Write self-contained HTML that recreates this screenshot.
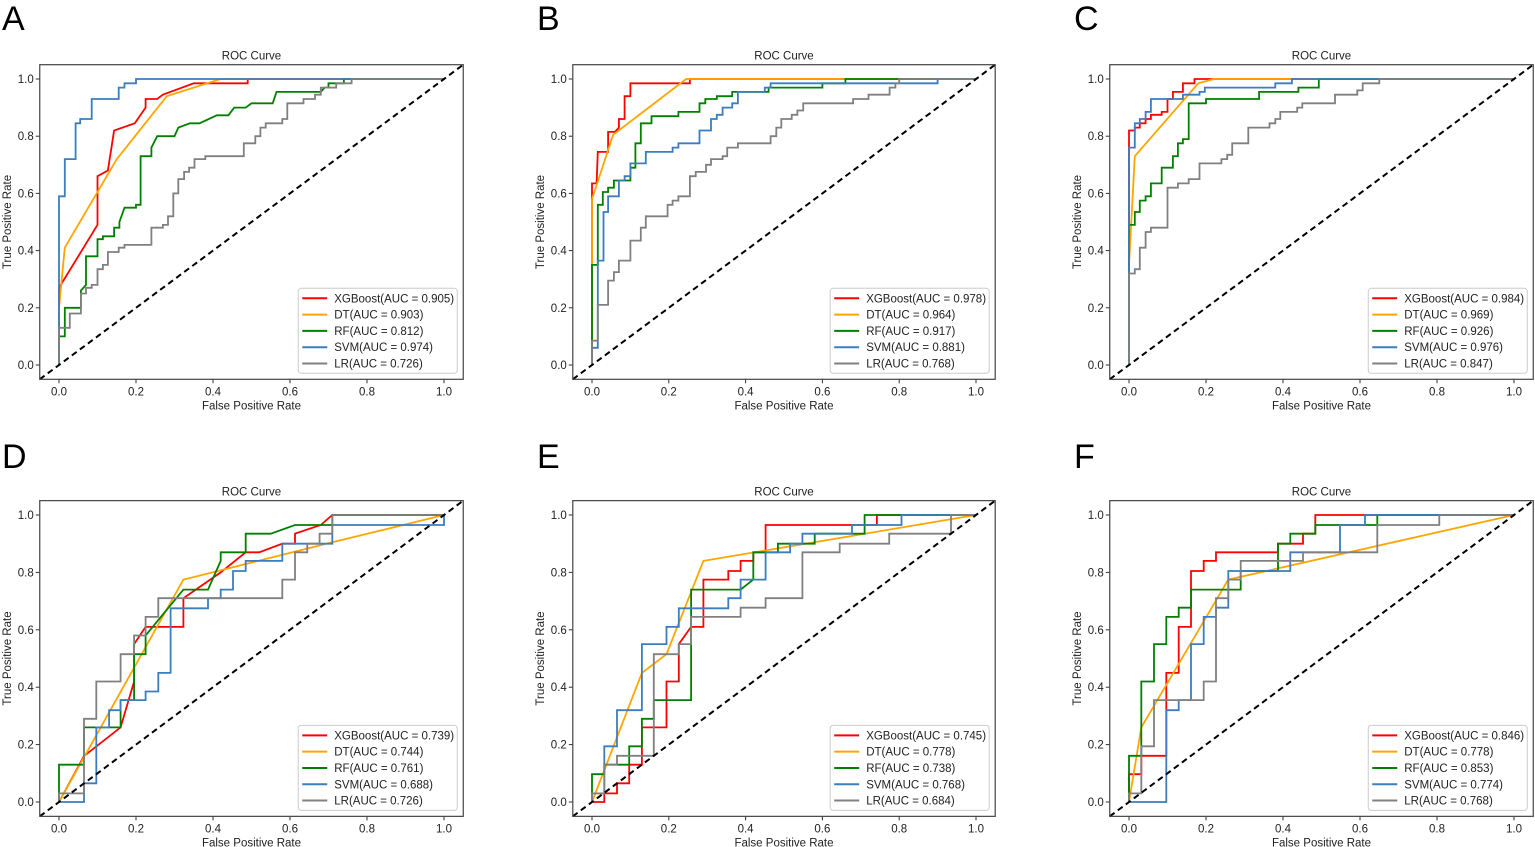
<!DOCTYPE html>
<html><head><meta charset="utf-8">
<style>
html,body{margin:0;padding:0;background:#fff;}
svg{display:block;font-family:"Liberation Sans",Arial,sans-serif;}
</style></head>
<body>
<svg id="fig" width="1535" height="847" viewBox="0 0 1535 847" xmlns="http://www.w3.org/2000/svg"></svg>
<script>
// ---- data: [fpr, tpr] points per panel/model ----
const modelNames = ["XGBoost","DT","RF","SVM","LR"];
const modelColors = ["#ff0000","#ffa500","#008000","#3b7dbf","#808080"];
const panelLetters = ["A","B","C","D","E","F"];
const aucA = [0.905,0.903,0.812,0.974,0.726];
const aucB = [0.978,0.964,0.917,0.881,0.768];
const aucC = [0.984,0.969,0.926,0.976,0.847];
const aucD = [0.739,0.744,0.761,0.688,0.726];
const aucE = [0.745,0.778,0.738,0.768,0.684];
const aucF = [0.846,0.778,0.853,0.774,0.768];
const xTicks = [0,0.2,0.4,0.6,0.8,1.0];
const yTicks = [0,0.2,0.4,0.6,0.8,1.0];

const A_XGB=[[0,0],[0,0.27],[0.1,0.49],[0.1,0.66],[0.127,0.68],[0.143,0.82],[0.197,0.845],[0.225,0.9],[0.225,0.93],[0.255,0.93],[0.27,0.945],[0.35,0.985],[0.49,0.985],[0.49,1],[1,1]];
const A_DT=[[0,0],[0,0.2],[0.015,0.41],[0.15,0.72],[0.28,0.94],[0.42,1],[1,1]];
const A_RF=[[0,0],[0,0.1],[0.015,0.1],[0.015,0.2],[0.057,0.2],[0.057,0.26],[0.07,0.28],[0.07,0.38],[0.1,0.38],[0.1,0.44],[0.114,0.44],[0.114,0.45],[0.143,0.45],[0.143,0.48],[0.157,0.48],[0.157,0.5],[0.17,0.55],[0.2,0.55],[0.2,0.56],[0.212,0.56],[0.212,0.73],[0.24,0.73],[0.24,0.76],[0.255,0.8],[0.3,0.8],[0.31,0.83],[0.34,0.845],[0.365,0.845],[0.41,0.873],[0.44,0.873],[0.455,0.9],[0.485,0.9],[0.5,0.915],[0.555,0.915],[0.565,0.955],[0.68,0.955],[0.69,0.97],[0.7,0.97],[0.7,0.985],[0.74,0.985],[0.74,1],[1,1]];
const A_SVM=[[0,0],[0,0.13],[0,0.59],[0.015,0.59],[0.015,0.72],[0.043,0.72],[0.043,0.845],[0.055,0.845],[0.055,0.86],[0.085,0.86],[0.085,0.93],[0.155,0.93],[0.155,0.97],[0.17,0.97],[0.17,0.985],[0.2,0.985],[0.2,1],[1,1]];
const A_LR=[[0,0],[0,0.13],[0.028,0.13],[0.028,0.18],[0.057,0.18],[0.057,0.25],[0.07,0.25],[0.07,0.27],[0.085,0.27],[0.085,0.28],[0.1,0.28],[0.1,0.335],[0.114,0.335],[0.114,0.35],[0.127,0.35],[0.127,0.395],[0.155,0.395],[0.155,0.41],[0.17,0.41],[0.17,0.42],[0.24,0.42],[0.24,0.48],[0.27,0.48],[0.27,0.49],[0.283,0.49],[0.283,0.52],[0.297,0.52],[0.297,0.6],[0.31,0.6],[0.31,0.65],[0.325,0.65],[0.325,0.675],[0.338,0.675],[0.338,0.69],[0.352,0.69],[0.352,0.72],[0.38,0.72],[0.38,0.73],[0.48,0.73],[0.48,0.775],[0.51,0.775],[0.51,0.8],[0.523,0.8],[0.523,0.83],[0.537,0.83],[0.537,0.845],[0.58,0.845],[0.58,0.86],[0.593,0.86],[0.593,0.915],[0.635,0.915],[0.635,0.93],[0.665,0.93],[0.665,0.945],[0.68,0.945],[0.68,0.97],[0.72,0.97],[0.72,0.985],[0.76,0.985],[0.76,1],[1,1]];

const B_XGB=[[0,0],[0,0.635],[0.012,0.635],[0.015,0.745],[0.042,0.745],[0.042,0.815],[0.06,0.815],[0.07,0.83],[0.07,0.86],[0.085,0.86],[0.085,0.94],[0.1,0.94],[0.1,0.985],[0.255,0.985],[0.255,1],[1,1]];
const B_DT=[[0,0],[0,0.35],[0,0.58],[0.055,0.805],[0.245,1],[1,1]];
const B_RF=[[0,0],[0,0.35],[0.015,0.35],[0.015,0.56],[0.028,0.56],[0.028,0.605],[0.042,0.605],[0.042,0.62],[0.057,0.62],[0.057,0.645],[0.1,0.645],[0.1,0.69],[0.113,0.69],[0.113,0.775],[0.127,0.775],[0.127,0.845],[0.155,0.845],[0.155,0.87],[0.225,0.87],[0.225,0.885],[0.28,0.885],[0.28,0.915],[0.295,0.915],[0.295,0.93],[0.325,0.93],[0.325,0.94],[0.365,0.94],[0.365,0.955],[0.46,0.955],[0.46,0.97],[0.6,0.97],[0.6,0.985],[0.66,0.985],[0.66,1],[1,1]];
const B_SVM=[[0,0],[0,0.06],[0.015,0.06],[0.015,0.365],[0.03,0.365],[0.03,0.535],[0.042,0.535],[0.042,0.59],[0.07,0.59],[0.07,0.645],[0.085,0.645],[0.085,0.66],[0.1,0.66],[0.1,0.705],[0.14,0.705],[0.14,0.745],[0.21,0.745],[0.21,0.76],[0.225,0.76],[0.225,0.775],[0.28,0.775],[0.28,0.82],[0.31,0.82],[0.31,0.86],[0.325,0.86],[0.325,0.875],[0.34,0.875],[0.34,0.9],[0.365,0.9],[0.365,0.915],[0.38,0.915],[0.38,0.955],[0.45,0.955],[0.45,0.97],[0.465,0.97],[0.465,0.985],[0.9,0.985],[0.9,1],[1,1]];
const B_LR=[[0,0],[0,0.085],[0.015,0.085],[0.015,0.21],[0.042,0.21],[0.042,0.295],[0.057,0.295],[0.057,0.325],[0.07,0.325],[0.07,0.365],[0.1,0.365],[0.1,0.435],[0.127,0.435],[0.127,0.48],[0.14,0.48],[0.14,0.52],[0.197,0.52],[0.197,0.56],[0.21,0.56],[0.21,0.575],[0.225,0.575],[0.225,0.59],[0.255,0.59],[0.255,0.66],[0.27,0.66],[0.27,0.675],[0.297,0.675],[0.297,0.7],[0.31,0.7],[0.31,0.72],[0.34,0.72],[0.34,0.73],[0.352,0.73],[0.352,0.76],[0.38,0.76],[0.38,0.775],[0.465,0.775],[0.465,0.8],[0.48,0.8],[0.48,0.83],[0.493,0.83],[0.493,0.86],[0.52,0.86],[0.52,0.875],[0.535,0.875],[0.535,0.89],[0.55,0.89],[0.55,0.915],[0.68,0.915],[0.68,0.93],[0.72,0.93],[0.72,0.945],[0.775,0.945],[0.775,0.97],[0.79,0.97],[0.79,0.985],[0.8,0.985],[0.8,1],[1,1]];

const C_XGB=[[0,0],[0,0.82],[0.015,0.82],[0.015,0.83],[0.028,0.83],[0.028,0.845],[0.043,0.845],[0.043,0.86],[0.057,0.86],[0.057,0.875],[0.085,0.875],[0.085,0.885],[0.1,0.885],[0.1,0.93],[0.114,0.93],[0.114,0.955],[0.14,0.955],[0.14,0.985],[0.17,0.985],[0.17,1],[1,1]];
const C_DT=[[0,0],[0,0.35],[0.015,0.73],[0.18,0.985],[0.22,1],[1,1]];
const C_RF=[[0,0],[0,0.49],[0.015,0.49],[0.015,0.535],[0.028,0.535],[0.028,0.575],[0.043,0.575],[0.043,0.59],[0.057,0.59],[0.057,0.635],[0.085,0.635],[0.085,0.69],[0.114,0.69],[0.114,0.73],[0.127,0.73],[0.127,0.775],[0.14,0.775],[0.14,0.79],[0.155,0.79],[0.155,0.915],[0.2,0.915],[0.2,0.93],[0.338,0.93],[0.338,0.955],[0.44,0.955],[0.44,0.97],[0.493,0.97],[0.493,1],[1,1]];
const C_SVM=[[0,0],[0,0.76],[0.015,0.76],[0.015,0.845],[0.028,0.845],[0.028,0.86],[0.043,0.86],[0.043,0.885],[0.057,0.885],[0.057,0.93],[0.14,0.93],[0.14,0.945],[0.183,0.945],[0.183,0.955],[0.197,0.955],[0.197,0.97],[0.38,0.97],[0.38,0.985],[0.423,0.985],[0.423,1],[1,1]];
const C_LR=[[0,0],[0,0.32],[0.015,0.32],[0.015,0.335],[0.028,0.335],[0.028,0.41],[0.043,0.41],[0.043,0.465],[0.057,0.465],[0.057,0.48],[0.1,0.48],[0.1,0.62],[0.127,0.62],[0.127,0.635],[0.155,0.635],[0.155,0.65],[0.183,0.65],[0.183,0.705],[0.24,0.705],[0.24,0.72],[0.255,0.72],[0.255,0.735],[0.268,0.735],[0.268,0.775],[0.31,0.775],[0.31,0.83],[0.365,0.83],[0.365,0.845],[0.38,0.845],[0.38,0.86],[0.393,0.86],[0.393,0.885],[0.437,0.885],[0.437,0.9],[0.45,0.9],[0.45,0.915],[0.535,0.915],[0.535,0.945],[0.593,0.945],[0.593,0.96],[0.607,0.96],[0.607,0.985],[0.65,0.985],[0.65,1],[1,1]];

const D_XGB=[[0,0],[0.065,0.16],[0.16,0.26],[0.195,0.42],[0.195,0.55],[0.225,0.61],[0.323,0.61],[0.323,0.71],[0.42,0.8],[0.485,0.87],[0.52,0.87],[0.58,0.9],[0.613,0.9],[0.613,0.935],[0.68,0.965],[0.71,1],[1,1]];
const D_DT=[[0,0],[0.323,0.775],[0.71,0.905],[1,1]];
const D_RF=[[0,0],[0,0.13],[0.065,0.13],[0.065,0.26],[0.16,0.26],[0.16,0.355],[0.195,0.355],[0.195,0.515],[0.225,0.515],[0.225,0.58],[0.323,0.74],[0.387,0.74],[0.42,0.84],[0.42,0.87],[0.485,0.87],[0.485,0.935],[0.55,0.935],[0.613,0.965],[0.71,0.965],[0.71,1],[1,1]];
const D_SVM=[[0,0],[0.065,0],[0.065,0.065],[0.097,0.065],[0.097,0.26],[0.13,0.26],[0.13,0.32],[0.16,0.32],[0.16,0.355],[0.225,0.355],[0.225,0.385],[0.258,0.385],[0.258,0.45],[0.29,0.45],[0.29,0.675],[0.387,0.675],[0.387,0.71],[0.42,0.71],[0.42,0.74],[0.452,0.74],[0.452,0.805],[0.485,0.805],[0.485,0.84],[0.58,0.84],[0.58,0.9],[0.71,0.9],[0.71,0.965],[1,0.965],[1,1]];
const D_LR=[[0,0],[0,0.03],[0.065,0.03],[0.065,0.29],[0.097,0.29],[0.097,0.42],[0.16,0.42],[0.16,0.515],[0.195,0.515],[0.195,0.58],[0.225,0.58],[0.225,0.645],[0.258,0.645],[0.258,0.71],[0.58,0.71],[0.58,0.775],[0.613,0.775],[0.613,0.87],[0.645,0.87],[0.645,0.9],[0.677,0.9],[0.677,0.935],[0.71,0.935],[0.71,1],[1,1]];

const E_XGB=[[0,0],[0.032,0],[0.032,0.03],[0.065,0.03],[0.065,0.065],[0.097,0.065],[0.097,0.13],[0.13,0.13],[0.13,0.26],[0.194,0.26],[0.194,0.42],[0.226,0.42],[0.226,0.55],[0.258,0.61],[0.29,0.61],[0.29,0.775],[0.355,0.775],[0.355,0.805],[0.387,0.805],[0.387,0.84],[0.42,0.84],[0.42,0.87],[0.452,0.87],[0.452,0.965],[0.742,0.965],[0.742,1],[1,1]];
const E_DT=[[0,0],[0.13,0.45],[0.194,0.515],[0.29,0.84],[1,1]];
const E_RF=[[0,0],[0,0.097],[0.032,0.097],[0.032,0.13],[0.097,0.13],[0.097,0.194],[0.13,0.194],[0.13,0.29],[0.161,0.29],[0.161,0.355],[0.258,0.355],[0.258,0.74],[0.387,0.74],[0.42,0.775],[0.42,0.87],[0.484,0.87],[0.484,0.9],[0.58,0.9],[0.58,0.935],[0.71,0.935],[0.71,1],[1,1]];
const E_SVM=[[0,0],[0,0.03],[0.032,0.03],[0.032,0.194],[0.065,0.194],[0.065,0.32],[0.13,0.32],[0.13,0.55],[0.194,0.55],[0.194,0.61],[0.226,0.61],[0.226,0.675],[0.355,0.675],[0.355,0.71],[0.387,0.71],[0.387,0.775],[0.452,0.775],[0.452,0.87],[0.516,0.87],[0.516,0.9],[0.548,0.9],[0.548,0.935],[0.677,0.935],[0.677,0.965],[0.806,0.965],[0.806,1],[1,1]];
const E_LR=[[0,0],[0,0.03],[0.032,0.03],[0.032,0.13],[0.065,0.13],[0.065,0.161],[0.161,0.161],[0.161,0.515],[0.226,0.515],[0.226,0.55],[0.258,0.55],[0.258,0.645],[0.387,0.645],[0.387,0.677],[0.452,0.677],[0.452,0.71],[0.548,0.71],[0.548,0.87],[0.645,0.87],[0.645,0.9],[0.774,0.9],[0.774,0.935],[0.935,0.935],[0.935,1],[1,1]];

const F_XGB=[[0,0],[0,0.097],[0.032,0.097],[0.032,0.161],[0.097,0.161],[0.097,0.45],[0.129,0.45],[0.129,0.61],[0.161,0.61],[0.161,0.805],[0.194,0.805],[0.194,0.84],[0.226,0.84],[0.226,0.87],[0.387,0.87],[0.387,0.9],[0.452,0.9],[0.452,0.935],[0.484,0.935],[0.484,1],[1,1]];
const F_DT=[[0,0],[0.032,0.26],[0.258,0.775],[1,1]];
const F_RF=[[0,0],[0,0.161],[0.032,0.161],[0.032,0.42],[0.065,0.42],[0.065,0.55],[0.097,0.55],[0.097,0.645],[0.129,0.645],[0.129,0.677],[0.161,0.677],[0.161,0.74],[0.29,0.74],[0.29,0.805],[0.387,0.805],[0.387,0.9],[0.419,0.9],[0.419,0.935],[0.484,0.935],[0.484,0.965],[0.645,0.965],[0.645,1],[1,1]];
const F_SVM=[[0,0],[0.097,0],[0.097,0.32],[0.129,0.32],[0.129,0.355],[0.161,0.355],[0.161,0.55],[0.194,0.55],[0.194,0.645],[0.226,0.645],[0.226,0.677],[0.258,0.677],[0.258,0.805],[0.419,0.805],[0.419,0.87],[0.548,0.87],[0.548,0.965],[0.613,0.965],[0.613,1],[1,1]];
const F_LR=[[0,0],[0,0.03],[0.032,0.03],[0.032,0.194],[0.065,0.194],[0.065,0.355],[0.194,0.355],[0.194,0.42],[0.226,0.42],[0.226,0.71],[0.258,0.71],[0.258,0.775],[0.29,0.775],[0.29,0.84],[0.452,0.84],[0.452,0.87],[0.645,0.87],[0.645,0.965],[0.806,0.965],[0.806,1],[1,1]];

const panelCurves = [
  [A_XGB,A_DT,A_RF,A_SVM,A_LR],[B_XGB,B_DT,B_RF,B_SVM,B_LR],[C_XGB,C_DT,C_RF,C_SVM,C_LR],
  [D_XGB,D_DT,D_RF,D_SVM,D_LR],[E_XGB,E_DT,E_RF,E_SVM,E_LR],[F_XGB,F_DT,F_RF,F_SVM,F_LR]];
const panelAucs = [aucA,aucB,aucC,aucD,aucE,aucF];

// ---- layout ----
const colX0 = [59,592,1129], colX1 = [444,976,1514];
const rowY0 = [365,802], rowY1 = [79,515];
const letterX = [2,537,1074], letterY = [30,468];
const NS = "http://www.w3.org/2000/svg";
const svg = document.getElementById("fig");
function mk(tag, attrs, parent){
  const e = document.createElementNS(NS, tag);
  for (const k in attrs) e.setAttribute(k, attrs[k]);
  (parent||svg).appendChild(e);
  return e;
}

panelLetters.forEach((L, p) => {
  const c = p % 3, r = Math.floor(p / 3);
  const x0 = colX0[c], x1 = colX1[c], y0 = rowY0[r], y1 = rowY1[r];
  const sx = v => x0 + (x1 - x0) * v;
  const sy = v => y0 - (y0 - y1) * v;
  const left = sx(-0.05), right = sx(1.05), top = sy(1.05), bottom = sy(-0.05);

  const g = mk("g", {});
  
  

  const letter = mk("text", {x: letterX[c], y: letterY[r], "font-size": 34, fill: "#000"}, g);
  letter.textContent = L;
  
  

  const title = mk("text", {x: (left + right) / 2, y: top - 5, "font-size": 11.5, "text-anchor": "middle", fill: "#222"}, g);
  title.textContent = "ROC Curve";
  
  

  // ticks
  xTicks.forEach(t => {
    const tk = mk("line", {x1: sx(t), x2: sx(t), y1: bottom, y2: bottom + 4, stroke: "#333", "stroke-width": 1}, g);
    
    
    const tl = mk("text", {x: sx(t), y: bottom + 16, "font-size": 11.5, "text-anchor": "middle", fill: "#222"}, g);
    tl.textContent = t.toFixed(1);
    
    
  });
  yTicks.forEach(t => {
    const tk = mk("line", {x1: left - 4, x2: left, y1: sy(t), y2: sy(t), stroke: "#333", "stroke-width": 1}, g);
    
    
    const tl = mk("text", {x: left - 6, y: sy(t) + 4, "font-size": 11.5, "text-anchor": "end", fill: "#222"}, g);
    tl.textContent = t.toFixed(1);
    
    
  });

  const xl = mk("text", {x: (left + right) / 2, y: bottom + 30, "font-size": 11.5, "text-anchor": "middle", fill: "#222"}, g);
  xl.textContent = "False Positive Rate";
  
  
  const yx = left - 29, yy = (top + bottom) / 2;
  const yl = mk("text", {x: yx, y: yy, "font-size": 11.5, "text-anchor": "middle", fill: "#222", transform: "rotate(-90 " + yx + " " + yy + ")"}, g);
  yl.textContent = "True Positive Rate";
  
  

  // curves
  panelCurves[p].forEach((pts, m) => {
    const d = pts.map((q, i) => (i ? "L" : "M") + sx(q[0]).toFixed(1) + " " + sy(q[1]).toFixed(1)).join(" ");
    const path = mk("path", {d: d, fill: "none", stroke: modelColors[m], "stroke-width": 1.8, "stroke-linejoin": "miter"}, g);
    
    
  });

  const diag = mk("line", {x1: sx(-0.05), y1: sy(-0.05), x2: sx(1.05), y2: sy(1.05), stroke: "#000", "stroke-width": 2, "stroke-dasharray": "6,4"}, g);
  
  

  const frame = mk("rect", {x: left, y: top, width: right - left, height: bottom - top, fill: "none", stroke: "#444", "stroke-width": 1.2}, g);
  
  

  // legend
  const lw = 159, lh = 85, lx = right - 6 - lw, ly = bottom - 6 - lh;
  const lg = mk("g", {}, g);
  
  
  mk("rect", {x: lx, y: ly, width: lw, height: lh, rx: 3, fill: "#fff", "fill-opacity": 0.85, stroke: "#ccc", "stroke-width": 1}, lg);
  modelNames.forEach((nm, m) => {
    const ry = ly + 10 + m * 16.3;
    const ln = mk("line", {x1: lx + 4, x2: lx + 29, y1: ry, y2: ry, stroke: modelColors[m], "stroke-width": 2}, lg);
    
    
    const tx = mk("text", {x: lx + 36, y: ry + 4, "font-size": 11.5, fill: "#222"}, lg);
    tx.textContent = nm + "(AUC = " + panelAucs[p][m].toFixed(3) + ")";
    
    
  });
});
</script>
</body></html>
